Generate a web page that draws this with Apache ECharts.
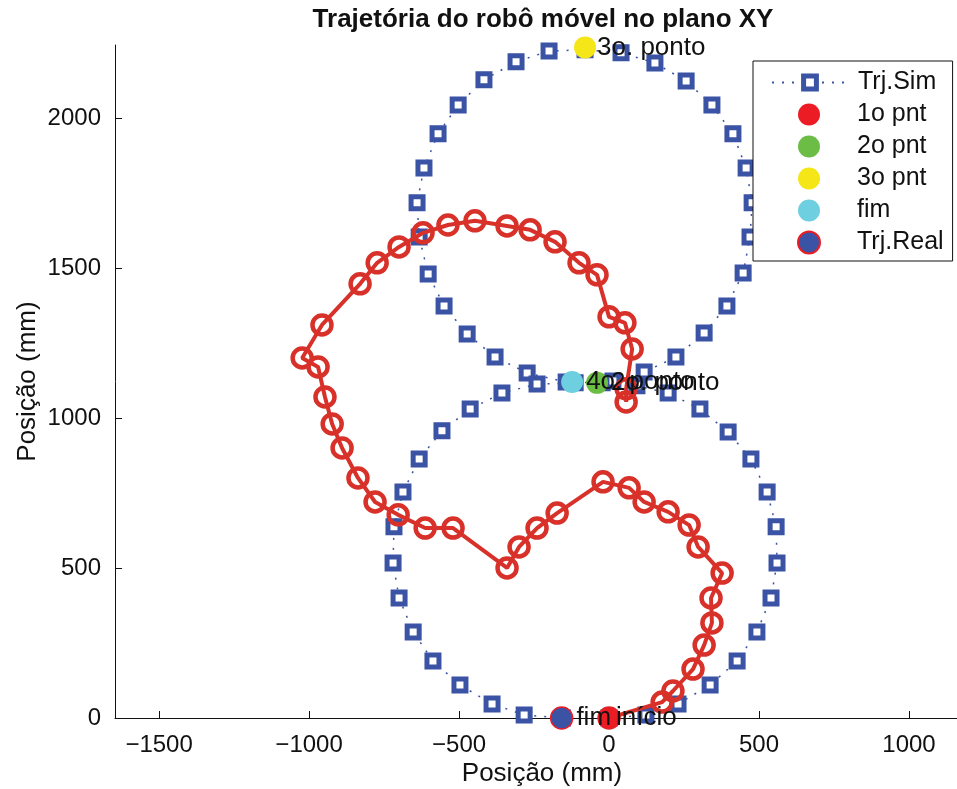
<!DOCTYPE html>
<html>
<head>
<meta charset="utf-8">
<title>Trajetória do robô móvel no plano XY</title>
<script src="https://cdn.jsdelivr.net/npm/echarts@6/dist/echarts.min.js"></script>
<style>
  html, body { margin: 0; padding: 0; background: #fff; }
  #chart { width: 957px; height: 789px; }
</style>
</head>
<body>
<div id="chart"></div>
<script>
// Simulated figure-eight path (mm), in travel order
const simX = [0, 123, 230, 337, 427, 493, 540, 560, 557, 527, 473, 397, 303, 197, 93, -23, -143, -273, -380, -473,
  -550, -603, -633, -640, -617, -570, -503, -417, -310, -200, -80, 40, 153, 257, 343, 413, 457, 477, 470, 447,
  393, 317, 223, 117, 13, -113, -240, -357, -463, -557, -633, -687, -717, -720, -700, -653, -587, -497, -390, -283, -155];
const simY = [0, 10, 47, 110, 190, 287, 400, 517, 637, 753, 863, 953, 1030, 1083, 1107, 1117, 1120, 1150, 1203, 1280,
  1373, 1480, 1603, 1717, 1833, 1947, 2043, 2127, 2187, 2223, 2227, 2217, 2183, 2123, 2043, 1947, 1833, 1717, 1603, 1483,
  1373, 1283, 1203, 1153, 1123, 1117, 1113, 1083, 1030, 957, 863, 753, 637, 517, 400, 287, 190, 110, 47, 10, 0];

// Measured robot path (mm)
const realX = [0, 177, 213, 280, 317, 343, 340, 377, 297, 267, 197, 117, 67, -20, -173, -240, -300, -340, -520, -613,
  -703, -780, -837, -890, -923, -947, -970, -1023, -957, -830, -773, -700, -620, -537, -447, -340, -263, -180, -100, -40,
  0, 53, 77, 57, 57];
const realY = [0, 53, 90, 163, 243, 317, 400, 483, 570, 643, 687, 720, 767, 787, 683, 633, 570, 500, 633, 633,
  677, 720, 800, 900, 980, 1070, 1170, 1200, 1310, 1447, 1517, 1570, 1617, 1643, 1657, 1640, 1627, 1587, 1517, 1477,
  1337, 1317, 1230, 1097, 1053];

// Waypoints
const pointNames  = ['1o pnt', '2o pnt', '3o pnt', 'fim', 'Trj.Real'];
const pointX      = [0, -40, -80, -123, -158];
const pointY      = [0, 1117, 2235, 1120, 0];
const pointLabels = ['início', '2o. ponto', '3o. ponto', '4o. ponto', 'fim'];
const pointColors = ['#ec1c24', '#6cbd45', '#f5e617', '#6dcfdf', '#3a53a4'];
const labelGaps   = [-4, 3, 1, 3, 3];

// Axis ticks
const xTicks = [-1500, -1000, -500, 0, 500, 1000];
const yTicks = [0, 500, 1000, 1500, 2000];

const FONT = 'Liberation Sans, Arial, Helvetica, sans-serif';
const SIM_BLUE = '#3a53a4';
const REAL_RED = '#d8312a';

const zip = (a, b) => a.map((v, i) => [v, b[i]]);
const plain = v => String(v).replace('-', '\u2212');

const pointSeries = pointNames.map((name, i) => ({
  name: name,
  type: 'scatter',
  z: 4,
  symbol: 'circle',
  symbolSize: 22,
  itemStyle: name === 'Trj.Real'
    ? { color: pointColors[i], borderColor: '#ec1c24', borderWidth: 1.5, opacity: 1 }
    : { color: pointColors[i], opacity: 1 },
  label: {
    show: true,
    position: 'right',
    distance: labelGaps[i],
    formatter: pointLabels[i],
    color: '#111',
    fontFamily: FONT,
    fontSize: 26
  },
  data: [[pointX[i], pointY[i]]]
}));

const chart = echarts.init(document.getElementById('chart'), null, { renderer: 'canvas' });
chart.setOption({
  animation: false,
  backgroundColor: '#fff',
  title: {
    text: 'Trajetória do robô móvel no plano XY',
    left: 538,
    top: 2,
    textAlign: 'center',
    textStyle: { fontFamily: FONT, fontSize: 26, fontWeight: 'bold', color: '#111' }
  },
  grid: { left: 115, right: 0, top: 45, bottom: 71, outerBoundsMode: 'none', containLabel: false },
  xAxis: {
    type: 'value',
    min: -1647,
    max: 1160,
    name: 'Posição (mm)',
    nameLocation: 'middle',
    nameGap: 43,
    nameMoveOverlap: false,
    nameTextStyle: { fontFamily: FONT, fontSize: 26, color: '#111', padding: [0, 0, 0, 12] },
    axisLine: { show: true, onZero: false, lineStyle: { color: '#111', width: 1 } },
    axisTick: { show: true, inside: true, length: 7, customValues: xTicks, lineStyle: { color: '#111' } },
    axisLabel: { customValues: xTicks, margin: 15, fontFamily: FONT, fontSize: 24, color: '#111', formatter: plain },
    splitLine: { show: false }
  },
  yAxis: {
    type: 'value',
    min: 0,
    max: 2243,
    name: 'Posição (mm)',
    nameLocation: 'middle',
    nameGap: 74,
    nameMoveOverlap: false,
    nameTextStyle: { fontFamily: FONT, fontSize: 26, color: '#111' },
    axisLine: { show: true, onZero: false, lineStyle: { color: '#111', width: 1 } },
    axisTick: { show: true, inside: true, length: 7, customValues: yTicks, lineStyle: { color: '#111' } },
    axisLabel: { customValues: yTicks, margin: 14, fontFamily: FONT, fontSize: 24, color: '#111', formatter: plain },
    splitLine: { show: false }
  },
  legend: [
    {
      // framed box holding the point entries
      data: ['1o pnt', '2o pnt', '3o pnt', 'fim', 'Trj.Real'],
      orient: 'vertical',
      left: 753,
      top: 61,
      z: 6,
      itemWidth: 76,
      itemHeight: 22,
      itemGap: 7,
      padding: [41, 9, 6, 44],
      backgroundColor: '#fff',
      borderColor: '#111',
      borderWidth: 1,
      borderRadius: 0,
      selectedMode: false,
      textStyle: { fontFamily: FONT, fontSize: 25, lineHeight: 22, color: '#111', padding: [0, 0, 0, 5] }
    },
    {
      // first row: simulated path entry
      data: [{ name: 'Trj.Sim', itemStyle: { color: '#fff', borderColor: SIM_BLUE, borderWidth: 5 } }],
      orient: 'vertical',
      left: 771,
      top: 70,
      z: 7,
      itemWidth: 76,
      itemHeight: 16,
      padding: 0,
      selectedMode: false,
      textStyle: { fontFamily: FONT, fontSize: 25, lineHeight: 16, color: '#111', padding: [0, 0, 0, 5] }
    }
  ],
  series: [
    {
      name: 'Trj.Sim',
      type: 'line',
      z: 2,
      data: zip(simX, simY),
      symbol: 'rect',
      symbolSize: 12,
      showSymbol: true,
      showAllSymbol: true,
      itemStyle: { color: '#fff', borderColor: SIM_BLUE, borderWidth: 5 },
      lineStyle: { color: SIM_BLUE, width: 1.5, type: [2, 8] }
    },
    {
      name: 'Trj.Real.path',
      type: 'line',
      z: 3,
      data: zip(realX, realY),
      symbol: 'circle',
      symbolSize: 19,
      showSymbol: true,
      showAllSymbol: true,
      itemStyle: { color: 'rgba(255,255,255,0)', borderColor: REAL_RED, borderWidth: 4.5 },
      lineStyle: { color: REAL_RED, width: 4 }
    }
  ].concat(pointSeries)
});
</script>
</body>
</html>
